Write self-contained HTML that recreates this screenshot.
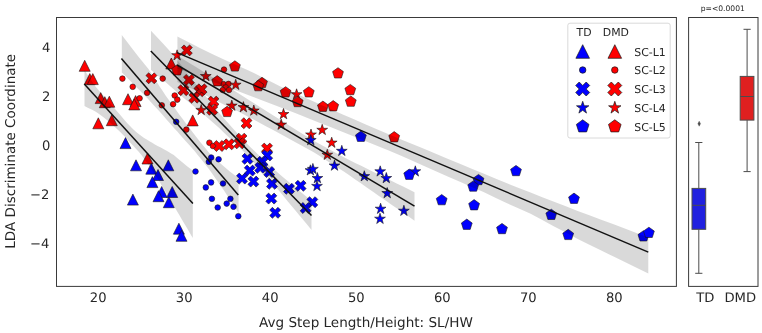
<!DOCTYPE html>
<html><head><meta charset="utf-8"><title>LDA plot</title>
<style>
html,body{margin:0;padding:0;background:#fff;}
body{width:762px;height:333px;overflow:hidden;}
svg{display:block;will-change:transform;}
text{font-family:"DejaVu Sans","Liberation Sans",sans-serif;fill:#262626;text-rendering:geometricPrecision;}
</style></head><body>
<svg width="762" height="333" viewBox="0 0 762 333">
<rect x="0" y="0" width="762" height="333" fill="#ffffff"/>

<defs><clipPath id="c"><rect x="56.5" y="17.5" width="619.8" height="268.7"/></clipPath></defs>
<g clip-path="url(#c)">
<g>
<polygon points="84.7,60.3 79.2,71.3 90.2,71.3" fill="#ff0000" stroke="#1a1a1a" stroke-width="0.6" stroke-linejoin="miter"/>
<polygon points="89.8,73.6 84.3,84.6 95.3,84.6" fill="#ff0000" stroke="#1a1a1a" stroke-width="0.6" stroke-linejoin="miter"/>
<polygon points="92.8,73.6 87.3,84.6 98.3,84.6" fill="#ff0000" stroke="#1a1a1a" stroke-width="0.6" stroke-linejoin="miter"/>
<polygon points="100.7,92.6 95.2,103.6 106.2,103.6" fill="#ff0000" stroke="#1a1a1a" stroke-width="0.6" stroke-linejoin="miter"/>
<polygon points="104.8,96.7 99.3,107.7 110.3,107.7" fill="#ff0000" stroke="#1a1a1a" stroke-width="0.6" stroke-linejoin="miter"/>
<polygon points="109.3,96.2 103.8,107.2 114.8,107.2" fill="#ff0000" stroke="#1a1a1a" stroke-width="0.6" stroke-linejoin="miter"/>
<polygon points="98.3,117.8 92.8,128.8 103.8,128.8" fill="#ff0000" stroke="#1a1a1a" stroke-width="0.6" stroke-linejoin="miter"/>
<polygon points="111.8,114.7 106.3,125.7 117.3,125.7" fill="#ff0000" stroke="#1a1a1a" stroke-width="0.6" stroke-linejoin="miter"/>
<polygon points="128.0,93.7 122.5,104.7 133.5,104.7" fill="#ff0000" stroke="#1a1a1a" stroke-width="0.6" stroke-linejoin="miter"/>
<polygon points="135.6,95.6 130.1,106.6 141.1,106.6" fill="#ff0000" stroke="#1a1a1a" stroke-width="0.6" stroke-linejoin="miter"/>
<polygon points="134.3,98.9 128.8,109.9 139.8,109.9" fill="#ff0000" stroke="#1a1a1a" stroke-width="0.6" stroke-linejoin="miter"/>
<polygon points="147.5,153.0 142.0,164.0 153.0,164.0" fill="#ff0000" stroke="#1a1a1a" stroke-width="0.6" stroke-linejoin="miter"/>
<polygon points="171.3,58.0 165.8,69.0 176.8,69.0" fill="#ff0000" stroke="#1a1a1a" stroke-width="0.6" stroke-linejoin="miter"/>
<polygon points="192.7,114.9 187.2,125.9 198.2,125.9" fill="#ff0000" stroke="#1a1a1a" stroke-width="0.6" stroke-linejoin="miter"/>
<polygon points="125.5,137.6 120.0,148.6 131.0,148.6" fill="#0000ff" stroke="#1a1a1a" stroke-width="0.6" stroke-linejoin="miter"/>
<polygon points="136.0,159.8 130.5,170.8 141.5,170.8" fill="#0000ff" stroke="#1a1a1a" stroke-width="0.6" stroke-linejoin="miter"/>
<polygon points="168.3,159.8 162.8,170.8 173.8,170.8" fill="#0000ff" stroke="#1a1a1a" stroke-width="0.6" stroke-linejoin="miter"/>
<polygon points="151.3,163.2 145.8,174.2 156.8,174.2" fill="#0000ff" stroke="#1a1a1a" stroke-width="0.6" stroke-linejoin="miter"/>
<polygon points="158.0,169.5 152.5,180.5 163.5,180.5" fill="#0000ff" stroke="#1a1a1a" stroke-width="0.6" stroke-linejoin="miter"/>
<polygon points="152.4,176.6 146.9,187.6 157.9,187.6" fill="#0000ff" stroke="#1a1a1a" stroke-width="0.6" stroke-linejoin="miter"/>
<polygon points="161.7,186.5 156.2,197.5 167.2,197.5" fill="#0000ff" stroke="#1a1a1a" stroke-width="0.6" stroke-linejoin="miter"/>
<polygon points="172.2,186.5 166.7,197.5 177.7,197.5" fill="#0000ff" stroke="#1a1a1a" stroke-width="0.6" stroke-linejoin="miter"/>
<polygon points="132.9,194.1 127.4,205.1 138.4,205.1" fill="#0000ff" stroke="#1a1a1a" stroke-width="0.6" stroke-linejoin="miter"/>
<polygon points="158.5,190.7 153.0,201.7 164.0,201.7" fill="#0000ff" stroke="#1a1a1a" stroke-width="0.6" stroke-linejoin="miter"/>
<polygon points="168.8,196.7 163.3,207.7 174.3,207.7" fill="#0000ff" stroke="#1a1a1a" stroke-width="0.6" stroke-linejoin="miter"/>
<polygon points="178.9,223.2 173.4,234.2 184.4,234.2" fill="#0000ff" stroke="#1a1a1a" stroke-width="0.6" stroke-linejoin="miter"/>
<polygon points="181.5,230.3 176.0,241.3 187.0,241.3" fill="#0000ff" stroke="#1a1a1a" stroke-width="0.6" stroke-linejoin="miter"/>
<circle cx="122.4" cy="78.6" r="2.80" fill="#ff0000" stroke="#1a1a1a" stroke-width="0.6"/>
<circle cx="132.7" cy="86.8" r="2.80" fill="#ff0000" stroke="#1a1a1a" stroke-width="0.6"/>
<circle cx="162.7" cy="78.6" r="2.80" fill="#ff0000" stroke="#1a1a1a" stroke-width="0.6"/>
<circle cx="147.1" cy="92.8" r="2.80" fill="#ff0000" stroke="#1a1a1a" stroke-width="0.6"/>
<circle cx="139.6" cy="98.3" r="2.80" fill="#ff0000" stroke="#1a1a1a" stroke-width="0.6"/>
<circle cx="224.0" cy="69.6" r="2.80" fill="#ff0000" stroke="#1a1a1a" stroke-width="0.6"/>
<circle cx="223.4" cy="84.1" r="2.80" fill="#ff0000" stroke="#1a1a1a" stroke-width="0.6"/>
<circle cx="228.5" cy="83.9" r="2.80" fill="#ff0000" stroke="#1a1a1a" stroke-width="0.6"/>
<circle cx="225.7" cy="87.3" r="2.80" fill="#ff0000" stroke="#1a1a1a" stroke-width="0.6"/>
<circle cx="229.0" cy="90.0" r="2.80" fill="#ff0000" stroke="#1a1a1a" stroke-width="0.6"/>
<circle cx="222.7" cy="90.0" r="2.80" fill="#ff0000" stroke="#1a1a1a" stroke-width="0.6"/>
<circle cx="174.7" cy="95.5" r="2.80" fill="#ff0000" stroke="#1a1a1a" stroke-width="0.6"/>
<circle cx="177.3" cy="99.6" r="2.80" fill="#ff0000" stroke="#1a1a1a" stroke-width="0.6"/>
<circle cx="173.1" cy="104.2" r="2.80" fill="#ff0000" stroke="#1a1a1a" stroke-width="0.6"/>
<circle cx="161.8" cy="105.3" r="2.80" fill="#ff0000" stroke="#1a1a1a" stroke-width="0.6"/>
<circle cx="186.3" cy="129.6" r="2.80" fill="#ff0000" stroke="#1a1a1a" stroke-width="0.6"/>
<circle cx="209.4" cy="142.7" r="2.80" fill="#ff0000" stroke="#1a1a1a" stroke-width="0.6"/>
<circle cx="212.9" cy="146.0" r="2.80" fill="#ff0000" stroke="#1a1a1a" stroke-width="0.6"/>
<circle cx="176.2" cy="121.8" r="2.80" fill="#0000ff" stroke="#1a1a1a" stroke-width="0.6"/>
<circle cx="211.2" cy="157.5" r="2.80" fill="#0000ff" stroke="#1a1a1a" stroke-width="0.6"/>
<circle cx="218.6" cy="159.3" r="2.80" fill="#0000ff" stroke="#1a1a1a" stroke-width="0.6"/>
<circle cx="208.8" cy="161.8" r="2.80" fill="#0000ff" stroke="#1a1a1a" stroke-width="0.6"/>
<circle cx="195.5" cy="171.5" r="2.80" fill="#0000ff" stroke="#1a1a1a" stroke-width="0.6"/>
<circle cx="211.1" cy="182.4" r="2.80" fill="#0000ff" stroke="#1a1a1a" stroke-width="0.6"/>
<circle cx="223.0" cy="183.5" r="2.80" fill="#0000ff" stroke="#1a1a1a" stroke-width="0.6"/>
<circle cx="205.8" cy="187.4" r="2.80" fill="#0000ff" stroke="#1a1a1a" stroke-width="0.6"/>
<circle cx="211.9" cy="198.8" r="2.80" fill="#0000ff" stroke="#1a1a1a" stroke-width="0.6"/>
<circle cx="217.7" cy="207.5" r="2.80" fill="#0000ff" stroke="#1a1a1a" stroke-width="0.6"/>
<circle cx="226.7" cy="203.6" r="2.80" fill="#0000ff" stroke="#1a1a1a" stroke-width="0.6"/>
<circle cx="230.4" cy="198.8" r="2.80" fill="#0000ff" stroke="#1a1a1a" stroke-width="0.6"/>
<circle cx="233.5" cy="206.7" r="2.80" fill="#0000ff" stroke="#1a1a1a" stroke-width="0.6"/>
<circle cx="238.3" cy="216.2" r="2.80" fill="#0000ff" stroke="#1a1a1a" stroke-width="0.6"/>
<polygon points="148.7,83.8 151.4,81.0 154.2,83.8 156.9,81.0 154.2,78.3 156.9,75.5 154.2,72.8 151.4,75.5 148.7,72.8 145.9,75.5 148.7,78.3 145.9,81.0" fill="#ff0000" stroke="#1a1a1a" stroke-width="0.6" stroke-linejoin="miter"/>
<polygon points="184.1,55.9 186.8,53.1 189.6,55.9 192.3,53.1 189.6,50.4 192.3,47.6 189.6,44.9 186.8,47.6 184.1,44.9 181.3,47.6 184.1,50.4 181.3,53.1" fill="#ff0000" stroke="#1a1a1a" stroke-width="0.6" stroke-linejoin="miter"/>
<polygon points="186.2,85.4 188.9,82.7 191.7,85.4 194.4,82.7 191.7,79.9 194.4,77.2 191.7,74.4 188.9,77.2 186.2,74.4 183.4,77.2 186.2,79.9 183.4,82.7" fill="#ff0000" stroke="#1a1a1a" stroke-width="0.6" stroke-linejoin="miter"/>
<polygon points="196.7,96.7 199.4,94.0 202.2,96.7 204.9,94.0 202.2,91.2 204.9,88.5 202.2,85.7 199.4,88.5 196.7,85.7 193.9,88.5 196.7,91.2 193.9,94.0" fill="#ff0000" stroke="#1a1a1a" stroke-width="0.6" stroke-linejoin="miter"/>
<polygon points="198.8,94.8 201.6,92.0 204.3,94.8 207.1,92.0 204.3,89.3 207.1,86.5 204.3,83.8 201.6,86.5 198.8,83.8 196.1,86.5 198.8,89.3 196.1,92.0" fill="#ff0000" stroke="#1a1a1a" stroke-width="0.6" stroke-linejoin="miter"/>
<polygon points="180.7,95.7 183.4,93.0 186.2,95.7 188.9,93.0 186.2,90.2 188.9,87.5 186.2,84.7 183.4,87.5 180.7,84.7 177.9,87.5 180.7,90.2 177.9,93.0" fill="#ff0000" stroke="#1a1a1a" stroke-width="0.6" stroke-linejoin="miter"/>
<polygon points="191.6,103.2 194.3,100.5 197.1,103.2 199.8,100.5 197.1,97.7 199.8,95.0 197.1,92.2 194.3,95.0 191.6,92.2 188.8,95.0 191.6,97.7 188.8,100.5" fill="#ff0000" stroke="#1a1a1a" stroke-width="0.6" stroke-linejoin="miter"/>
<polygon points="210.8,107.1 213.5,104.3 216.2,107.1 219.0,104.3 216.2,101.6 219.0,98.8 216.2,96.1 213.5,98.8 210.8,96.1 208.0,98.8 210.8,101.6 208.0,104.3" fill="#ff0000" stroke="#1a1a1a" stroke-width="0.6" stroke-linejoin="miter"/>
<polygon points="209.4,115.3 212.2,112.5 214.9,115.3 217.7,112.5 214.9,109.8 217.7,107.0 214.9,104.3 212.2,107.0 209.4,104.3 206.7,107.0 209.4,109.8 206.7,112.5" fill="#ff0000" stroke="#1a1a1a" stroke-width="0.6" stroke-linejoin="miter"/>
<polygon points="243.8,128.7 246.5,126.0 249.2,128.7 252.0,126.0 249.2,123.2 252.0,120.5 249.2,117.7 246.5,120.5 243.8,117.7 241.0,120.5 243.8,123.2 241.0,126.0" fill="#ff0000" stroke="#1a1a1a" stroke-width="0.6" stroke-linejoin="miter"/>
<polygon points="216.4,151.5 219.2,148.8 221.9,151.5 224.7,148.8 221.9,146.0 224.7,143.2 221.9,140.5 219.2,143.2 216.4,140.5 213.7,143.2 216.4,146.0 213.7,148.8" fill="#ff0000" stroke="#1a1a1a" stroke-width="0.6" stroke-linejoin="miter"/>
<polygon points="226.2,149.8 228.9,147.1 231.7,149.8 234.4,147.1 231.7,144.3 234.4,141.6 231.7,138.8 228.9,141.6 226.2,138.8 223.4,141.6 226.2,144.3 223.4,147.1" fill="#ff0000" stroke="#1a1a1a" stroke-width="0.6" stroke-linejoin="miter"/>
<polygon points="238.8,144.2 241.5,141.4 244.2,144.2 247.0,141.4 244.2,138.7 247.0,135.9 244.2,133.2 241.5,135.9 238.8,133.2 236.0,135.9 238.8,138.7 236.0,141.4" fill="#ff0000" stroke="#1a1a1a" stroke-width="0.6" stroke-linejoin="miter"/>
<polygon points="236.8,148.8 239.5,146.1 242.2,148.8 245.0,146.1 242.2,143.3 245.0,140.6 242.2,137.8 239.5,140.6 236.8,137.8 234.0,140.6 236.8,143.3 234.0,146.1" fill="#ff0000" stroke="#1a1a1a" stroke-width="0.6" stroke-linejoin="miter"/>
<polygon points="264.2,154.1 267.0,151.3 269.8,154.1 272.5,151.3 269.8,148.6 272.5,145.8 269.8,143.1 267.0,145.8 264.2,143.1 261.5,145.8 264.2,148.6 261.5,151.3" fill="#ff0000" stroke="#1a1a1a" stroke-width="0.6" stroke-linejoin="miter"/>
<polygon points="244.7,164.3 247.4,161.6 250.2,164.3 252.9,161.6 250.2,158.8 252.9,156.1 250.2,153.3 247.4,156.1 244.7,153.3 241.9,156.1 244.7,158.8 241.9,161.6" fill="#0000ff" stroke="#1a1a1a" stroke-width="0.6" stroke-linejoin="miter"/>
<polygon points="247.1,176.1 249.8,173.3 252.6,176.1 255.3,173.3 252.6,170.6 255.3,167.8 252.6,165.1 249.8,167.8 247.1,165.1 244.3,167.8 247.1,170.6 244.3,173.3" fill="#0000ff" stroke="#1a1a1a" stroke-width="0.6" stroke-linejoin="miter"/>
<polygon points="239.2,184.1 242.0,181.3 244.8,184.1 247.5,181.3 244.8,178.6 247.5,175.8 244.8,173.1 242.0,175.8 239.2,173.1 236.5,175.8 239.2,178.6 236.5,181.3" fill="#0000ff" stroke="#1a1a1a" stroke-width="0.6" stroke-linejoin="miter"/>
<polygon points="250.7,187.1 253.4,184.3 256.1,187.1 258.9,184.3 256.1,181.6 258.9,178.8 256.1,176.1 253.4,178.8 250.7,176.1 247.9,178.8 250.7,181.6 247.9,184.3" fill="#0000ff" stroke="#1a1a1a" stroke-width="0.6" stroke-linejoin="miter"/>
<polygon points="264.4,160.9 267.2,158.2 269.9,160.9 272.7,158.2 269.9,155.4 272.7,152.7 269.9,149.9 267.2,152.7 264.4,149.9 261.7,152.7 264.4,155.4 261.7,158.2" fill="#0000ff" stroke="#1a1a1a" stroke-width="0.6" stroke-linejoin="miter"/>
<polygon points="259.8,167.3 262.5,164.6 265.2,167.3 268.0,164.6 265.2,161.8 268.0,159.1 265.2,156.3 262.5,159.1 259.8,156.3 257.0,159.1 259.8,161.8 257.0,164.6" fill="#0000ff" stroke="#1a1a1a" stroke-width="0.6" stroke-linejoin="miter"/>
<polygon points="257.4,173.3 260.2,170.6 262.9,173.3 265.7,170.6 262.9,167.8 265.7,165.1 262.9,162.3 260.2,165.1 257.4,162.3 254.7,165.1 257.4,167.8 254.7,170.6" fill="#0000ff" stroke="#1a1a1a" stroke-width="0.6" stroke-linejoin="miter"/>
<polygon points="266.4,177.5 269.2,174.8 271.9,177.5 274.7,174.8 271.9,172.0 274.7,169.2 271.9,166.5 269.2,169.2 266.4,166.5 263.7,169.2 266.4,172.0 263.7,174.8" fill="#0000ff" stroke="#1a1a1a" stroke-width="0.6" stroke-linejoin="miter"/>
<polygon points="269.2,189.3 272.0,186.6 274.8,189.3 277.5,186.6 274.8,183.8 277.5,181.1 274.8,178.3 272.0,181.1 269.2,178.3 266.5,181.1 269.2,183.8 266.5,186.6" fill="#0000ff" stroke="#1a1a1a" stroke-width="0.6" stroke-linejoin="miter"/>
<polygon points="297.9,191.3 300.6,188.6 303.4,191.3 306.1,188.6 303.4,185.8 306.1,183.1 303.4,180.3 300.6,183.1 297.9,180.3 295.1,183.1 297.9,185.8 295.1,188.6" fill="#0000ff" stroke="#1a1a1a" stroke-width="0.6" stroke-linejoin="miter"/>
<polygon points="286.2,194.3 289.0,191.6 291.8,194.3 294.5,191.6 291.8,188.8 294.5,186.1 291.8,183.3 289.0,186.1 286.2,183.3 283.5,186.1 286.2,188.8 283.5,191.6" fill="#0000ff" stroke="#1a1a1a" stroke-width="0.6" stroke-linejoin="miter"/>
<polygon points="268.6,204.1 271.3,201.3 274.1,204.1 276.8,201.3 274.1,198.6 276.8,195.8 274.1,193.1 271.3,195.8 268.6,193.1 265.8,195.8 268.6,198.6 265.8,201.3" fill="#0000ff" stroke="#1a1a1a" stroke-width="0.6" stroke-linejoin="miter"/>
<polygon points="272.4,218.3 275.2,215.6 277.9,218.3 280.7,215.6 277.9,212.8 280.7,210.1 277.9,207.3 275.2,210.1 272.4,207.3 269.7,210.1 272.4,212.8 269.7,215.6" fill="#0000ff" stroke="#1a1a1a" stroke-width="0.6" stroke-linejoin="miter"/>
<polygon points="309.6,207.7 312.3,204.9 315.1,207.7 317.8,204.9 315.1,202.2 317.8,199.4 315.1,196.7 312.3,199.4 309.6,196.7 306.8,199.4 309.6,202.2 306.8,204.9" fill="#0000ff" stroke="#1a1a1a" stroke-width="0.6" stroke-linejoin="miter"/>
<polygon points="302.9,213.5 305.6,210.8 308.4,213.5 311.1,210.8 308.4,208.0 311.1,205.2 308.4,202.5 305.6,205.2 302.9,202.5 300.1,205.2 302.9,208.0 300.1,210.8" fill="#0000ff" stroke="#1a1a1a" stroke-width="0.6" stroke-linejoin="miter"/>
<polygon points="177.1,49.8 175.8,53.7 171.7,53.7 175.0,56.1 173.8,60.0 177.1,57.6 180.4,60.0 179.2,56.1 182.5,53.7 178.4,53.7" fill="#ff0000" stroke="#1a1a1a" stroke-width="0.6" stroke-linejoin="miter"/>
<polygon points="205.8,70.5 204.5,74.5 200.4,74.5 203.7,76.9 202.5,80.8 205.8,78.4 209.1,80.8 207.9,76.9 211.2,74.5 207.1,74.5" fill="#ff0000" stroke="#1a1a1a" stroke-width="0.6" stroke-linejoin="miter"/>
<polygon points="235.7,79.2 234.4,83.2 230.3,83.2 233.6,85.6 232.4,89.5 235.7,87.1 239.0,89.5 237.8,85.6 241.1,83.2 237.0,83.2" fill="#ff0000" stroke="#1a1a1a" stroke-width="0.6" stroke-linejoin="miter"/>
<polygon points="201.2,104.4 199.9,108.4 195.8,108.4 199.1,110.8 197.9,114.7 201.2,112.3 204.5,114.7 203.3,110.8 206.6,108.4 202.5,108.4" fill="#ff0000" stroke="#1a1a1a" stroke-width="0.6" stroke-linejoin="miter"/>
<polygon points="243.4,101.6 242.1,105.6 238.0,105.6 241.3,108.0 240.1,111.9 243.4,109.5 246.7,111.9 245.5,108.0 248.8,105.6 244.7,105.6" fill="#ff0000" stroke="#1a1a1a" stroke-width="0.6" stroke-linejoin="miter"/>
<polygon points="253.8,105.0 252.5,109.0 248.4,109.0 251.7,111.4 250.5,115.3 253.8,112.9 257.1,115.3 255.9,111.4 259.2,109.0 255.1,109.0" fill="#ff0000" stroke="#1a1a1a" stroke-width="0.6" stroke-linejoin="miter"/>
<polygon points="231.8,100.1 230.5,104.1 226.4,104.1 229.7,106.5 228.5,110.4 231.8,108.0 235.1,110.4 233.9,106.5 237.2,104.1 233.1,104.1" fill="#ff0000" stroke="#1a1a1a" stroke-width="0.6" stroke-linejoin="miter"/>
<polygon points="296.6,88.8 295.3,92.7 291.2,92.7 294.5,95.1 293.3,99.0 296.6,96.6 299.9,99.0 298.7,95.1 302.0,92.7 297.9,92.7" fill="#ff0000" stroke="#1a1a1a" stroke-width="0.6" stroke-linejoin="miter"/>
<polygon points="283.5,108.5 282.2,112.5 278.1,112.5 281.4,114.9 280.2,118.8 283.5,116.4 286.8,118.8 285.6,114.9 288.9,112.5 284.8,112.5" fill="#ff0000" stroke="#1a1a1a" stroke-width="0.6" stroke-linejoin="miter"/>
<polygon points="281.2,119.1 279.9,123.1 275.8,123.1 279.1,125.5 277.9,129.4 281.2,127.0 284.5,129.4 283.3,125.5 286.6,123.1 282.5,123.1" fill="#ff0000" stroke="#1a1a1a" stroke-width="0.6" stroke-linejoin="miter"/>
<polygon points="322.2,124.3 320.9,128.3 316.8,128.3 320.1,130.7 318.9,134.6 322.2,132.2 325.5,134.6 324.3,130.7 327.6,128.3 323.5,128.3" fill="#ff0000" stroke="#1a1a1a" stroke-width="0.6" stroke-linejoin="miter"/>
<polygon points="311.0,129.0 309.7,133.0 305.6,133.0 308.9,135.4 307.7,139.3 311.0,136.9 314.3,139.3 313.1,135.4 316.4,133.0 312.3,133.0" fill="#ff0000" stroke="#1a1a1a" stroke-width="0.6" stroke-linejoin="miter"/>
<polygon points="331.7,137.2 330.4,141.1 326.3,141.1 329.6,143.5 328.4,147.4 331.7,145.0 335.0,147.4 333.8,143.5 337.1,141.1 333.0,141.1" fill="#ff0000" stroke="#1a1a1a" stroke-width="0.6" stroke-linejoin="miter"/>
<polygon points="327.3,149.2 326.0,153.2 321.9,153.2 325.2,155.6 324.0,159.5 327.3,157.1 330.6,159.5 329.4,155.6 332.7,153.2 328.6,153.2" fill="#ff0000" stroke="#1a1a1a" stroke-width="0.6" stroke-linejoin="miter"/>
<polygon points="310.8,134.5 309.5,138.5 305.4,138.5 308.7,140.9 307.5,144.8 310.8,142.4 314.1,144.8 312.9,140.9 316.2,138.5 312.1,138.5" fill="#0000ff" stroke="#1a1a1a" stroke-width="0.6" stroke-linejoin="miter"/>
<polygon points="341.8,145.3 340.5,149.3 336.4,149.3 339.7,151.7 338.5,155.6 341.8,153.2 345.1,155.6 343.9,151.7 347.2,149.3 343.1,149.3" fill="#0000ff" stroke="#1a1a1a" stroke-width="0.6" stroke-linejoin="miter"/>
<polygon points="334.5,160.0 333.2,164.0 329.1,164.0 332.4,166.4 331.2,170.3 334.5,167.9 337.8,170.3 336.6,166.4 339.9,164.0 335.8,164.0" fill="#0000ff" stroke="#1a1a1a" stroke-width="0.6" stroke-linejoin="miter"/>
<polygon points="364.3,170.7 363.0,174.6 358.9,174.6 362.2,177.0 361.0,180.9 364.3,178.5 367.6,180.9 366.4,177.0 369.7,174.6 365.6,174.6" fill="#0000ff" stroke="#1a1a1a" stroke-width="0.6" stroke-linejoin="miter"/>
<polygon points="380.2,165.8 378.9,169.8 374.8,169.8 378.1,172.2 376.9,176.1 380.2,173.7 383.5,176.1 382.3,172.2 385.6,169.8 381.5,169.8" fill="#0000ff" stroke="#1a1a1a" stroke-width="0.6" stroke-linejoin="miter"/>
<polygon points="386.3,172.5 385.0,176.5 380.9,176.5 384.2,178.9 383.0,182.8 386.3,180.4 389.6,182.8 388.4,178.9 391.7,176.5 387.6,176.5" fill="#0000ff" stroke="#1a1a1a" stroke-width="0.6" stroke-linejoin="miter"/>
<polygon points="387.2,187.5 385.9,191.5 381.8,191.5 385.1,193.9 383.9,197.8 387.2,195.4 390.5,197.8 389.3,193.9 392.6,191.5 388.5,191.5" fill="#0000ff" stroke="#1a1a1a" stroke-width="0.6" stroke-linejoin="miter"/>
<polygon points="415.3,165.8 414.0,169.8 409.9,169.8 413.2,172.2 412.0,176.1 415.3,173.7 418.6,176.1 417.4,172.2 420.7,169.8 416.6,169.8" fill="#0000ff" stroke="#1a1a1a" stroke-width="0.6" stroke-linejoin="miter"/>
<polygon points="310.4,164.8 309.1,168.7 305.0,168.7 308.3,171.1 307.1,175.0 310.4,172.6 313.7,175.0 312.5,171.1 315.8,168.7 311.7,168.7" fill="#0000ff" stroke="#1a1a1a" stroke-width="0.6" stroke-linejoin="miter"/>
<polygon points="312.9,163.4 311.6,167.4 307.5,167.4 310.8,169.8 309.6,173.7 312.9,171.3 316.2,173.7 315.0,169.8 318.3,167.4 314.2,167.4" fill="#0000ff" stroke="#1a1a1a" stroke-width="0.6" stroke-linejoin="miter"/>
<polygon points="317.4,172.5 316.1,176.5 312.0,176.5 315.3,178.9 314.1,182.8 317.4,180.4 320.7,182.8 319.5,178.9 322.8,176.5 318.7,176.5" fill="#0000ff" stroke="#1a1a1a" stroke-width="0.6" stroke-linejoin="miter"/>
<polygon points="317.0,180.4 315.7,184.4 311.6,184.4 314.9,186.8 313.7,190.7 317.0,188.3 320.3,190.7 319.1,186.8 322.4,184.4 318.3,184.4" fill="#0000ff" stroke="#1a1a1a" stroke-width="0.6" stroke-linejoin="miter"/>
<polygon points="380.6,203.2 379.3,207.2 375.2,207.2 378.5,209.6 377.3,213.5 380.6,211.1 383.9,213.5 382.7,209.6 386.0,207.2 381.9,207.2" fill="#0000ff" stroke="#1a1a1a" stroke-width="0.6" stroke-linejoin="miter"/>
<polygon points="380.0,213.2 378.7,217.2 374.6,217.2 377.9,219.6 376.7,223.5 380.0,221.1 383.3,223.5 382.1,219.6 385.4,217.2 381.3,217.2" fill="#0000ff" stroke="#1a1a1a" stroke-width="0.6" stroke-linejoin="miter"/>
<polygon points="403.9,205.2 402.6,209.2 398.5,209.2 401.8,211.6 400.6,215.5 403.9,213.1 407.2,215.5 406.0,211.6 409.3,209.2 405.2,209.2" fill="#0000ff" stroke="#1a1a1a" stroke-width="0.6" stroke-linejoin="miter"/>
<polygon points="177.1,64.7 171.7,68.6 173.7,75.0 180.5,75.0 182.5,68.6" fill="#ff0000" stroke="#1a1a1a" stroke-width="0.6" stroke-linejoin="miter"/>
<polygon points="234.9,60.8 229.5,64.7 231.5,71.1 238.3,71.1 240.3,64.7" fill="#ff0000" stroke="#1a1a1a" stroke-width="0.6" stroke-linejoin="miter"/>
<polygon points="217.2,75.6 211.8,79.5 213.8,85.9 220.6,85.9 222.6,79.5" fill="#ff0000" stroke="#1a1a1a" stroke-width="0.6" stroke-linejoin="miter"/>
<polygon points="227.1,106.3 221.7,110.2 223.7,116.6 230.5,116.6 232.5,110.2" fill="#ff0000" stroke="#1a1a1a" stroke-width="0.6" stroke-linejoin="miter"/>
<polygon points="338.0,67.7 332.6,71.6 334.6,78.0 341.4,78.0 343.4,71.6" fill="#ff0000" stroke="#1a1a1a" stroke-width="0.6" stroke-linejoin="miter"/>
<polygon points="350.3,84.4 344.9,88.3 346.9,94.7 353.7,94.7 355.7,88.3" fill="#ff0000" stroke="#1a1a1a" stroke-width="0.6" stroke-linejoin="miter"/>
<polygon points="350.8,96.0 345.4,99.9 347.4,106.3 354.2,106.3 356.2,99.9" fill="#ff0000" stroke="#1a1a1a" stroke-width="0.6" stroke-linejoin="miter"/>
<polygon points="308.8,86.7 303.4,90.6 305.4,97.0 312.2,97.0 314.2,90.6" fill="#ff0000" stroke="#1a1a1a" stroke-width="0.6" stroke-linejoin="miter"/>
<polygon points="285.6,86.7 280.2,90.6 282.2,97.0 289.0,97.0 291.0,90.6" fill="#ff0000" stroke="#1a1a1a" stroke-width="0.6" stroke-linejoin="miter"/>
<polygon points="297.7,96.4 292.3,100.3 294.3,106.7 301.1,106.7 303.1,100.3" fill="#ff0000" stroke="#1a1a1a" stroke-width="0.6" stroke-linejoin="miter"/>
<polygon points="262.0,77.3 256.6,81.2 258.6,87.6 265.4,87.6 267.4,81.2" fill="#ff0000" stroke="#1a1a1a" stroke-width="0.6" stroke-linejoin="miter"/>
<polygon points="258.3,80.5 252.9,84.4 254.9,90.8 261.7,90.8 263.7,84.4" fill="#ff0000" stroke="#1a1a1a" stroke-width="0.6" stroke-linejoin="miter"/>
<polygon points="322.9,101.1 317.5,105.0 319.5,111.4 326.3,111.4 328.3,105.0" fill="#ff0000" stroke="#1a1a1a" stroke-width="0.6" stroke-linejoin="miter"/>
<polygon points="333.2,100.6 327.8,104.5 329.8,110.9 336.6,110.9 338.6,104.5" fill="#ff0000" stroke="#1a1a1a" stroke-width="0.6" stroke-linejoin="miter"/>
<polygon points="394.2,131.6 388.8,135.5 390.8,141.9 397.6,141.9 399.6,135.5" fill="#ff0000" stroke="#1a1a1a" stroke-width="0.6" stroke-linejoin="miter"/>
<polygon points="360.9,131.1 355.5,135.0 357.5,141.4 364.3,141.4 366.3,135.0" fill="#0000ff" stroke="#1a1a1a" stroke-width="0.6" stroke-linejoin="miter"/>
<polygon points="409.2,169.1 403.8,173.0 405.8,179.4 412.6,179.4 414.6,173.0" fill="#0000ff" stroke="#1a1a1a" stroke-width="0.6" stroke-linejoin="miter"/>
<polygon points="516.0,165.4 510.6,169.3 512.6,175.7 519.4,175.7 521.4,169.3" fill="#0000ff" stroke="#1a1a1a" stroke-width="0.6" stroke-linejoin="miter"/>
<polygon points="478.5,174.4 473.1,178.3 475.1,184.7 481.9,184.7 483.9,178.3" fill="#0000ff" stroke="#1a1a1a" stroke-width="0.6" stroke-linejoin="miter"/>
<polygon points="473.2,180.9 467.8,184.8 469.8,191.2 476.6,191.2 478.6,184.8" fill="#0000ff" stroke="#1a1a1a" stroke-width="0.6" stroke-linejoin="miter"/>
<polygon points="441.7,194.5 436.3,198.4 438.3,204.8 445.1,204.8 447.1,198.4" fill="#0000ff" stroke="#1a1a1a" stroke-width="0.6" stroke-linejoin="miter"/>
<polygon points="474.1,199.6 468.7,203.5 470.7,209.9 477.5,209.9 479.5,203.5" fill="#0000ff" stroke="#1a1a1a" stroke-width="0.6" stroke-linejoin="miter"/>
<polygon points="466.8,219.1 461.4,223.0 463.4,229.4 470.2,229.4 472.2,223.0" fill="#0000ff" stroke="#1a1a1a" stroke-width="0.6" stroke-linejoin="miter"/>
<polygon points="502.0,223.4 496.6,227.3 498.6,233.7 505.4,233.7 507.4,227.3" fill="#0000ff" stroke="#1a1a1a" stroke-width="0.6" stroke-linejoin="miter"/>
<polygon points="551.3,209.2 545.9,213.1 547.9,219.5 554.7,219.5 556.7,213.1" fill="#0000ff" stroke="#1a1a1a" stroke-width="0.6" stroke-linejoin="miter"/>
<polygon points="574.0,193.1 568.6,197.0 570.6,203.4 577.4,203.4 579.4,197.0" fill="#0000ff" stroke="#1a1a1a" stroke-width="0.6" stroke-linejoin="miter"/>
<polygon points="568.2,229.3 562.8,233.2 564.8,239.6 571.6,239.6 573.6,233.2" fill="#0000ff" stroke="#1a1a1a" stroke-width="0.6" stroke-linejoin="miter"/>
<polygon points="643.4,230.7 638.0,234.6 640.0,241.0 646.8,241.0 648.8,234.6" fill="#0000ff" stroke="#1a1a1a" stroke-width="0.6" stroke-linejoin="miter"/>
<polygon points="648.9,227.2 643.5,231.1 645.5,237.5 652.3,237.5 654.3,231.1" fill="#0000ff" stroke="#1a1a1a" stroke-width="0.6" stroke-linejoin="miter"/>
</g>
<g fill="#000" fill-opacity="0.15" stroke="none">
<polygon points="84.5,70.1 87.2,74.2 89.9,78.2 92.6,82.3 95.3,86.3 98.0,89.6 100.7,92.7 103.5,95.7 106.2,98.8 108.9,101.8 111.6,104.9 114.3,108.0 117.0,111.2 119.7,114.3 122.4,117.5 125.1,120.7 127.8,123.8 130.5,126.5 133.2,129.2 135.9,131.7 138.7,133.9 141.4,136.1 144.1,138.0 146.8,139.6 149.5,141.2 152.2,142.8 154.9,144.4 157.6,145.9 160.3,147.3 163.0,148.7 165.7,150.3 168.4,151.8 171.1,153.4 173.8,155.0 176.6,157.4 179.3,159.7 182.0,162.1 184.7,164.3 187.4,166.4 190.1,168.4 192.8,170.5 192.8,238.0 190.1,233.4 187.4,228.8 184.7,224.3 182.0,219.7 179.3,215.1 176.6,210.5 173.8,205.9 171.1,201.3 168.4,196.7 165.7,192.1 163.0,187.5 160.3,182.9 157.6,178.6 154.9,174.4 152.2,170.2 149.5,166.1 146.8,162.5 144.1,158.8 141.4,155.1 138.7,151.8 135.9,148.8 133.2,145.8 130.5,142.9 127.8,139.9 125.1,136.9 122.4,134.2 119.7,131.6 117.0,129.0 114.3,126.4 111.6,123.8 108.9,121.4 106.2,119.4 103.5,117.3 100.7,115.3 98.0,113.3 95.3,111.5 92.6,110.1 89.9,108.8 87.2,107.5 84.5,106.1"/>
<polygon points="121.8,34.9 124.7,38.7 127.6,42.6 130.6,46.4 133.5,50.3 136.4,54.1 139.3,57.7 142.2,61.3 145.2,65.0 148.1,68.6 151.0,72.7 153.9,77.4 156.8,82.1 159.8,86.7 162.7,91.1 165.6,95.5 168.5,99.5 171.4,103.6 174.4,107.6 177.3,111.7 180.2,115.7 183.1,119.6 186.0,123.4 189.0,127.3 191.9,131.2 194.8,135.0 197.7,138.8 200.6,142.4 203.6,146.0 206.5,149.6 209.4,153.3 212.3,156.1 215.2,158.7 218.2,161.4 221.1,164.0 224.0,166.6 226.9,169.1 229.8,171.4 232.8,173.8 235.7,176.1 238.6,178.5 238.6,213.0 235.7,208.5 232.8,204.0 229.8,199.5 226.9,195.0 224.0,190.6 221.1,186.4 218.2,182.2 215.2,178.0 212.3,173.8 209.4,169.7 206.5,166.0 203.6,162.3 200.6,158.6 197.7,154.9 194.8,151.2 191.9,148.0 189.0,144.7 186.0,141.4 183.1,138.2 180.2,134.9 177.3,131.6 174.4,128.4 171.4,125.0 168.5,121.7 165.6,118.4 162.7,115.1 159.8,111.8 156.8,108.6 153.9,105.4 151.0,102.2 148.1,99.0 145.2,96.0 142.2,93.1 139.3,90.1 136.4,87.2 133.5,84.3 130.6,81.3 127.6,78.3 124.7,75.3 121.8,72.4"/>
<polygon points="151.0,30.7 155.0,35.0 159.0,39.3 163.0,43.6 167.1,47.9 171.1,52.6 175.1,57.6 179.1,62.6 183.1,67.6 187.1,72.7 191.1,77.9 195.1,83.1 199.2,88.3 203.2,93.2 207.2,98.1 211.2,103.1 215.2,108.0 219.2,112.9 223.2,117.5 227.2,122.0 231.2,126.6 235.3,131.1 239.3,135.7 243.3,140.2 247.3,144.0 251.3,147.9 255.3,151.8 259.3,155.7 263.4,159.6 267.4,163.5 271.4,167.2 275.4,170.6 279.4,174.0 283.4,177.4 287.4,180.8 291.4,184.2 295.4,187.6 299.5,190.9 303.5,194.3 307.5,197.6 311.5,201.0 311.5,230.0 307.5,225.1 303.5,220.3 299.5,215.4 295.4,210.6 291.4,205.7 287.4,200.9 283.4,196.1 279.4,191.3 275.4,186.5 271.4,181.7 267.4,177.2 263.4,172.8 259.3,168.5 255.3,164.2 251.3,159.9 247.3,155.5 243.3,151.2 239.3,147.3 235.3,143.5 231.2,139.6 227.2,135.8 223.2,131.9 219.2,128.1 215.2,124.6 211.2,121.1 207.2,117.6 203.2,114.1 199.2,110.7 195.1,107.4 191.1,104.1 187.1,100.7 183.1,97.4 179.1,94.1 175.1,90.6 171.1,87.0 167.1,83.5 163.0,80.1 159.0,76.7 155.0,73.3 151.0,70.0"/>
<polygon points="177.4,55.6 183.3,59.3 189.3,62.9 195.2,66.6 201.1,70.3 207.0,73.9 213.0,77.6 218.9,81.3 224.8,85.0 230.7,88.6 236.7,92.3 242.6,96.0 248.5,99.8 254.5,103.5 260.4,107.3 266.3,111.0 272.2,114.8 278.2,118.5 284.1,122.2 290.0,125.9 295.9,129.7 301.9,133.4 307.8,137.1 313.7,140.7 319.7,143.9 325.6,147.2 331.5,150.4 337.4,153.7 343.4,156.9 349.3,160.0 355.2,162.9 361.2,165.8 367.1,168.8 373.0,171.7 378.9,174.6 384.9,177.6 390.8,180.5 396.7,183.4 402.6,186.3 408.6,189.3 414.5,192.2 414.5,220.7 408.6,216.6 402.6,212.4 396.7,208.3 390.8,204.2 384.9,200.1 378.9,195.9 373.0,191.8 367.1,187.7 361.2,183.6 355.2,179.5 349.3,175.3 343.4,171.3 337.4,167.5 331.5,163.7 325.6,159.9 319.7,156.1 313.7,152.3 307.8,148.9 301.9,145.7 295.9,142.4 290.0,139.2 284.1,135.9 278.2,132.7 272.2,129.5 266.3,126.4 260.4,123.2 254.5,120.1 248.5,116.9 242.6,113.8 236.7,110.7 230.7,107.8 224.8,104.9 218.9,101.9 213.0,99.0 207.0,96.1 201.1,93.1 195.2,90.3 189.3,87.6 183.3,84.9 177.4,82.1"/>
<polygon points="177.4,36.6 189.2,42.6 200.9,48.5 212.7,54.3 224.5,59.8 236.3,65.0 248.0,70.2 259.8,75.9 271.6,81.9 283.4,87.9 295.1,93.1 306.9,98.4 318.7,103.7 330.4,109.0 342.2,114.2 354.0,119.3 365.8,124.4 377.5,129.4 389.3,134.4 401.1,139.4 412.9,144.3 424.6,149.1 436.4,154.0 448.2,158.9 459.9,163.8 471.7,168.7 483.5,173.6 495.3,178.5 507.0,183.3 518.8,188.0 530.6,192.6 542.3,197.2 554.1,201.8 565.9,206.3 577.7,210.9 589.4,215.3 601.2,219.7 613.0,224.1 624.8,228.6 636.5,233.0 648.3,237.4 648.3,273.5 636.5,267.8 624.8,262.1 613.0,256.3 601.2,250.6 589.4,244.8 577.7,238.9 565.9,232.6 554.1,226.4 542.3,220.1 530.6,213.8 518.8,208.5 507.0,203.2 495.3,197.8 483.5,192.1 471.7,186.9 459.9,181.8 448.2,176.7 436.4,171.5 424.6,166.3 412.9,161.0 401.1,155.8 389.3,150.8 377.5,146.0 365.8,141.2 354.0,136.4 342.2,131.7 330.4,127.0 318.7,122.4 306.9,117.7 295.1,113.0 283.4,108.4 271.6,103.9 259.8,99.4 248.0,94.9 236.3,90.4 224.5,86.0 212.7,81.7 200.9,77.4 189.2,73.1 177.4,68.8"/>
</g>
<g stroke="#111" stroke-width="1.5" stroke-linecap="butt">
<line x1="84.3" y1="83.9" x2="192.9" y2="203.6"/>
<line x1="121.4" y1="58.4" x2="238.3" y2="195.1"/>
<line x1="150.8" y1="51" x2="311.5" y2="215.5"/>
<line x1="177.2" y1="65" x2="414.5" y2="206.2"/>
<line x1="177" y1="52.6" x2="648.3" y2="252.1"/>
</g>
</g>
<rect x="56.5" y="17.5" width="619.9" height="268.9" fill="none" stroke="#3a3a3a" stroke-width="1"/>
<rect x="688.6" y="17.5" width="69.4" height="268.9" fill="none" stroke="#3a3a3a" stroke-width="1"/>
<text x="98.2" y="301.6" font-size="13.1" text-anchor="middle">20</text>
<text x="184.2" y="301.6" font-size="13.1" text-anchor="middle">30</text>
<text x="270.2" y="301.6" font-size="13.1" text-anchor="middle">40</text>
<text x="356.3" y="301.6" font-size="13.1" text-anchor="middle">50</text>
<text x="442.3" y="301.6" font-size="13.1" text-anchor="middle">60</text>
<text x="528.3" y="301.6" font-size="13.1" text-anchor="middle">70</text>
<text x="614.3" y="301.6" font-size="13.1" text-anchor="middle">80</text>
<text x="50.4" y="51.7" font-size="13.1" text-anchor="end">4</text>
<text x="50.4" y="100.8" font-size="13.1" text-anchor="end">2</text>
<text x="50.4" y="149.9" font-size="13.1" text-anchor="end">0</text>
<text x="49.4" y="199.0" font-size="13.1" text-anchor="end">−2</text>
<text x="49.4" y="248.1" font-size="13.1" text-anchor="end">−4</text>
<text x="365.9" y="326.8" font-size="13.55" text-anchor="middle">Avg Step Length/Height: SL/HW</text>
<text transform="translate(14.9,151.3) rotate(-90)" font-size="13.5" text-anchor="middle">LDA Discriminate Coordinate</text>
<rect x="567.8" y="23.2" width="102.4" height="114.8" rx="2.2" ry="2.2" fill="#ffffff" fill-opacity="0.8" stroke="#cccccc" stroke-opacity="0.8" stroke-width="0.9"/>
<text x="584.1" y="35.8" font-size="10.9" text-anchor="middle">TD</text>
<text x="615.9" y="35.8" font-size="10.9" text-anchor="middle">DMD</text>
<polygon points="582.7,44.7 575.9,58.3 589.5,58.3" fill="#0000ff" stroke="#1a1a1a" stroke-width="0.7" stroke-linejoin="miter"/>
<polygon points="614.8,44.7 608.0,58.3 621.6,58.3" fill="#ff0000" stroke="#1a1a1a" stroke-width="0.7" stroke-linejoin="miter"/>
<text x="634.3" y="55.5" font-size="10.9">SC-L1</text>
<circle cx="582.7" cy="70.0" r="3.25" fill="#0000ff" stroke="#1a1a1a" stroke-width="0.7"/>
<circle cx="614.8" cy="70.0" r="3.25" fill="#ff0000" stroke="#1a1a1a" stroke-width="0.7"/>
<text x="634.3" y="74.0" font-size="10.9">SC-L2</text>
<polygon points="579.2,96.0 582.7,92.5 586.2,96.0 589.7,92.5 586.2,89.0 589.7,85.5 586.2,82.0 582.7,85.5 579.2,82.0 575.7,85.5 579.2,89.0 575.7,92.5" fill="#0000ff" stroke="#1a1a1a" stroke-width="0.7" stroke-linejoin="miter"/>
<polygon points="611.3,96.0 614.8,92.5 618.3,96.0 621.8,92.5 618.3,89.0 621.8,85.5 618.3,82.0 614.8,85.5 611.3,82.0 607.8,85.5 611.3,89.0 607.8,92.5" fill="#ff0000" stroke="#1a1a1a" stroke-width="0.7" stroke-linejoin="miter"/>
<text x="634.3" y="93.0" font-size="10.9">SC-L3</text>
<polygon points="582.7,101.3 581.2,105.8 576.5,105.8 580.3,108.6 578.9,113.1 582.7,110.3 586.5,113.1 585.1,108.6 588.9,105.8 584.2,105.8" fill="#0000ff" stroke="#1a1a1a" stroke-width="0.7" stroke-linejoin="miter"/>
<polygon points="614.8,101.3 613.3,105.8 608.6,105.8 612.4,108.6 611.0,113.1 614.8,110.3 618.6,113.1 617.2,108.6 621.0,105.8 616.3,105.8" fill="#ff0000" stroke="#1a1a1a" stroke-width="0.7" stroke-linejoin="miter"/>
<text x="634.3" y="111.8" font-size="10.9">SC-L4</text>
<polygon points="582.7,119.8 576.4,124.4 578.8,131.9 586.6,131.9 589.0,124.4" fill="#0000ff" stroke="#1a1a1a" stroke-width="0.7" stroke-linejoin="miter"/>
<polygon points="614.8,119.8 608.5,124.4 610.9,131.9 618.7,131.9 621.1,124.4" fill="#ff0000" stroke="#1a1a1a" stroke-width="0.7" stroke-linejoin="miter"/>
<text x="634.3" y="130.5" font-size="10.9">SC-L5</text>
<g stroke="#4c4c4c" stroke-width="1" fill="none">
<line x1="698.8" y1="142.5" x2="698.8" y2="188.4"/><line x1="698.8" y1="229.3" x2="698.8" y2="273.3"/>
<line x1="695.2" y1="142.5" x2="702.4" y2="142.5"/><line x1="695.2" y1="273.3" x2="702.4" y2="273.3"/>
<rect x="692.0" y="188.4" width="13.7" height="40.9" fill="#2020df"/>
<line x1="692.0" y1="205.3" x2="705.7" y2="205.3"/>
<line x1="747.1" y1="29.3" x2="747.1" y2="76.4"/><line x1="747.1" y1="120.1" x2="747.1" y2="171.6"/>
<line x1="743.5" y1="29.3" x2="750.7" y2="29.3"/><line x1="743.5" y1="171.6" x2="750.7" y2="171.6"/>
<rect x="740.2" y="76.4" width="13.7" height="43.7" fill="#df2020"/>
<line x1="740.2" y1="96.5" x2="753.9" y2="96.5"/>
</g>
<polygon points="699.2,121.2 700.5,123.7 699.2,126.2 697.9,123.7" fill="#4c4c4c" stroke="#4c4c4c" stroke-width="0.4"/>
<text x="705.3" y="301.8" font-size="13.2" text-anchor="middle">TD</text>
<text x="740.3" y="301.8" font-size="13.2" text-anchor="middle">DMD</text>
<text x="722.8" y="11.2" font-size="7.6" text-anchor="middle">p=&lt;0.0001</text>
</svg></body></html>
